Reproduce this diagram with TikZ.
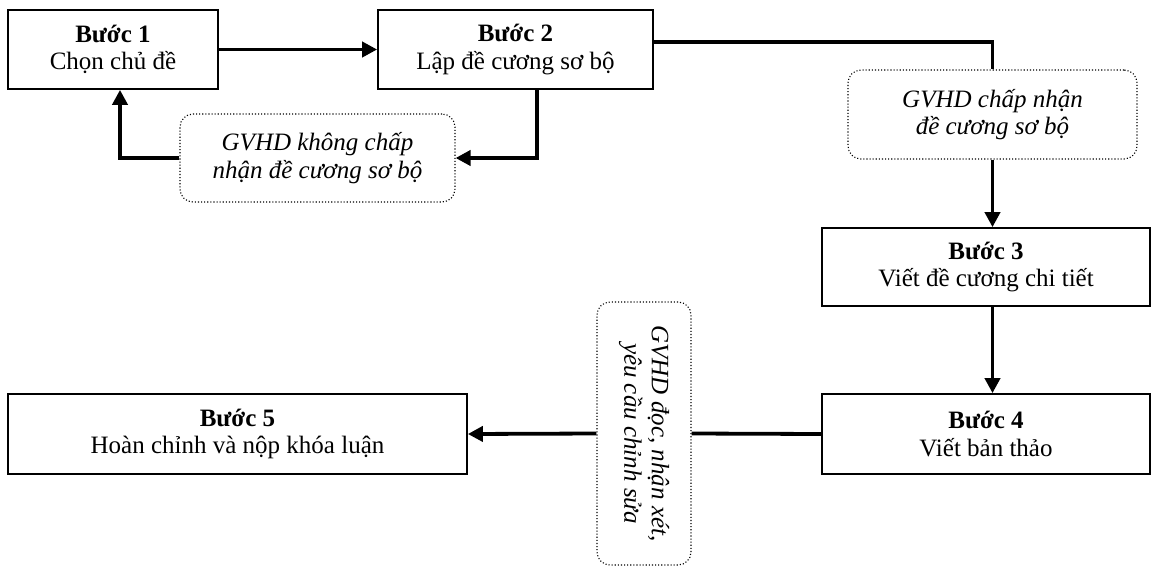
\documentclass[tikz,border=0pt]{standalone}
\usepackage{fontspec}
\setmainfont{Liberation Serif}
\usetikzlibrary{arrows.meta,calc}
\begin{document}
\begin{tikzpicture}[x=1pt,y=-1pt,
  txt/.style={font=\fontsize{25}{27.5}\selectfont, align=center, inner sep=0pt},
  stepbox/.style={txt, draw, line width=1.7pt, rectangle},
  notebox/.style={txt, draw, dotted, line width=1.1pt, rounded corners=13pt, font=\fontsize{25}{27.5}\selectfont\itshape},
  conn/.style={line width=3.8pt},
  arr/.style={conn, -{Triangle[length=15pt,width=15pt]}}
]
\useasboundingbox (0,0) rectangle (1159,565);
\node[stepbox, minimum width=210pt, minimum height=79pt] (b1) at (113,49.5) {\textbf{Bước 1}\\Chọn chủ đề};
\node[stepbox, minimum width=275pt, minimum height=79pt] (b2) at (515.5,49.5) {\textbf{Bước 2}\\Lập đề cương sơ bộ};
\node[stepbox, minimum width=328pt, minimum height=78pt] (b3) at (986,267) {\textbf{Bước 3}\\Viết đề cương chi tiết};
\node[stepbox, minimum width=328pt, minimum height=80pt] (b4) at (986,434) {\textbf{Bước 4}\\Viết bản thảo};
\node[stepbox, minimum width=459pt, minimum height=80pt] (b5) at (237.5,434) {\textbf{Bước 5}\\Hoàn chỉnh và nộp khóa luận};
\node[notebox, minimum width=275pt, minimum height=88pt] (d1) at (317.5,158) {GVHD không chấp\\nhận đề cương sơ bộ};
\node[notebox, minimum width=289pt, minimum height=89pt] (d2) at (992.5,114.5) {GVHD chấp nhận\\đề cương sơ bộ};
\node[notebox, minimum width=263pt, minimum height=94pt, rotate=-90] (d3) at (644,433.5) {GVHD đọc, nhận xét,\\yêu cầu chỉnh sửa};

\draw[arr] (b1) -- (b2);
\draw[conn] ($(b2.east)+(0,-7.5)$) -| (d2.north);
\draw[arr] (d2.south) -- (d2.south |- b3.north);
\draw[arr] (b3.south -| d2.south) -- (b4.north -| d2.south);
\draw[conn] (b4.west) -- (d3.north);
\draw[arr] (d3.south) -- (b5.east);
\draw[arr] ($(b2.south)+(21.5,0)$) |- (d1.east);
\draw[arr] (d1.west) -| ($(b1.south)+(7,0)$);
\end{tikzpicture}
\end{document}
